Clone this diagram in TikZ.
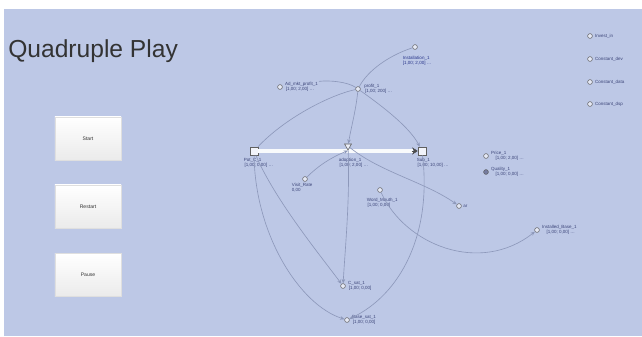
\documentclass[tikz,border=0pt]{standalone}
\usepackage{fontspec}
\setmainfont{Liberation Sans}
\usetikzlibrary{arrows.meta,positioning,shapes.geometric,calc}
\definecolor{canvas}{HTML}{BDC8E6}
\definecolor{wire}{HTML}{8D98BA}
\definecolor{ink}{HTML}{3B4478}
\definecolor{selink}{HTML}{27348A}

\begin{document}
\begin{tikzpicture}[x=0.025cm, y=-0.025cm,
      every node/.style={font=\fontsize{3.2}{3.6}\selectfont, text=ink},
      link/.style={draw=wire, line width=0.45pt},
      arr/.style={link, -{Stealth[length=1.1mm, width=0.9mm]}},
      stock/.style={draw=gray!75!black, fill=white!80!canvas, minimum size=0.2cm,
                    inner sep=0pt, line width=0.4pt},
      valve/.style={regular polygon, regular polygon sides=3, shape border rotate=180,
                    draw=gray!75!black, fill=white!70!canvas, minimum size=0.2cm,
                    inner sep=0pt, line width=0.4pt},
      aux/.style={circle, draw=gray!70!black, fill=white!60!canvas, minimum size=0.12cm,
                  inner sep=0pt, line width=0.35pt},
      lbl/.style={align=left, inner sep=0.5pt},
      btn/.style={draw=gray!25, top color=white, bottom color=gray!16, minimum width=1.65cm,
                  minimum height=1.075cm, text=gray!40!black,
                  font=\fontsize{3.6}{4}\selectfont}
  ]
    \useasboundingbox (0,0) rectangle (642,336);
    \fill[white] (0,0) rectangle (642,336);
    \fill[canvas] (4,9) rectangle (642,336);

    % ---- Title and buttons ----
    \node[anchor=south west, inner sep=0pt, text=black!80,
          font=\fontsize{17.5}{20}\selectfont] (title) at (8,63) {Quadruple Play};
    \node[btn] (bstart) at (88,138.5) {Start};
    \node[btn] (brestart) at (88,206.5) {Restart};
    \node[btn] (bpause) at (88,275) {Pause};

    % ---- Stocks and flow ----
    \node[stock] (potc) at (254,151) {};
    \node[stock] (subs) at (422,151) {};
    \draw[line width=0.45pt, draw=gray!60!black, double=white!90!canvas, double distance=2.4pt]
          (potc.east) -- ($(subs.west)+(-5,0)$);
    \draw[-{Stealth[length=1.4mm, width=1.8mm]}, draw=gray!60!black, fill=white, line width=0.3pt]
          ($(subs.west)+(-6,0)$) -- (subs.west);
    \node[valve] (adopt) at (348,146) {};

    \node[lbl, anchor=north west] (potclbl) at (243,157) {Pot\_C\_1\\\,[1,00; 0,00] \dots};
    \node[lbl, anchor=north west] (adoptlbl) at (338,157) {adoption\_1\\\,[1,00; 2,00] \dots};
    \node[lbl, anchor=north west] (subslbl) at (416,157) {Sub\_1\\\,[1,00; 10,00] \dots};

    % ---- Auxiliaries ----
    \node[aux] (fixed) at (415,47) {};
    \node[lbl, anchor=north west, text=selink] (fixedlbl) at (402,55)
          {Installation\_1\\{}[1,00; 2,00] \dots};
    \node[aux] (profit) at (358,89) {};
    \node[lbl, right=2pt of profit] (profitlbl) {profit\_1\\\,[1,00; 200] \dots};
    \node[aux] (adv) at (280,87) {};
    \node[lbl, right=1pt of adv] (advlbl) {Ad\_mkt\_profit\_1\\\,[1,00; 2,00] \dots};
    \node[aux] (visit) at (305,179) {};
    \node[lbl, anchor=north west] (visitlbl) at (291,182) {Visit\_Rate\\0,00};
    \node[aux] (word) at (380,190) {};
    \node[lbl, anchor=north west] (wordlbl) at (366,197) {Word\_Mouth\_1\\\,[1,00; 0,00]};
    \node[aux] (ar) at (459,206) {};
    \node[lbl, right=0.5pt of ar] (arlbl) {ar};
    \node[aux] (price) at (486,156) {};
    \node[lbl, right=1pt of price] (pricelbl) {Price\_1\\\quad[1,00; 2,00] \dots};
    \node[aux, fill=ink!70] (quality) at (486,172) {};
    \node[lbl, right=1pt of quality] (qualitylbl) {Quality\_1\\\quad[1,00; 0,00] \dots};
    \node[aux] (base) at (537,230) {};
    \node[lbl, right=1pt of base] (baselbl) {Installed\_Base\_1\\\quad[1,00; 0,00] \dots};
    \node[aux] (csat) at (343,286) {};
    \node[lbl, right=1pt of csat] (csatlbl) {C\_sat\_1\\\,[1,00; 0,00]};
    \node[aux] (bsat) at (347,320) {};
    \node[lbl, right=1pt of bsat] (bsatlbl) {Base\_sat\_1\\\,[1,00; 0,00]};

    % ---- Parameters ----
    \node[aux] (invest) at (590,36) {};
    \node[lbl, right=1pt of invest] (investlbl) {Invest\_in};
    \node[aux] (cdev) at (590,59) {};
    \node[lbl, right=1pt of cdev] (cdevlbl) {Constant\_dev};
    \node[aux] (cdata) at (590,82) {};
    \node[lbl, right=1pt of cdata] (cdatalbl) {Constant\_data};
    \node[aux] (cdsp) at (590,104) {};
    \node[lbl, right=1pt of cdsp] (cdsplbl) {Constant\_dsp};

    % ---- Links ----
    \draw[link] (potc) .. controls (285,118) and (330,95) .. (profit);
    \draw[link] (advlbl.north east) .. controls (330,80) and (348,82) .. (profit);
    \draw[link] (fixed) .. controls (390,55) and (368,70) .. (profit);
    \draw[arr] (profit) .. controls (356,110) and (351,128) .. (adopt);
    \draw[arr] (profit) .. controls (385,108) and (410,128) .. (subs);
    \draw[arr] (potc) .. controls (255,235) and (300,305) .. (bsat);
    \draw[arr] (potc) .. controls (275,200) and (320,255) .. (csat);
    \draw[arr] (adopt) .. controls (350,200) and (345,250) .. (csat);
    \draw[arr] (subs) .. controls (432,235) and (400,295) .. (bsat);
    \draw[arr] (visit) .. controls (318,166) and (330,158) .. (adopt.south);
    \draw[arr] (adopt) .. controls (380,172) and (425,182) .. (ar);
    \draw[arr] (word) .. controls (405,245) and (480,275) .. (base);

  \end{tikzpicture}
\end{document}
